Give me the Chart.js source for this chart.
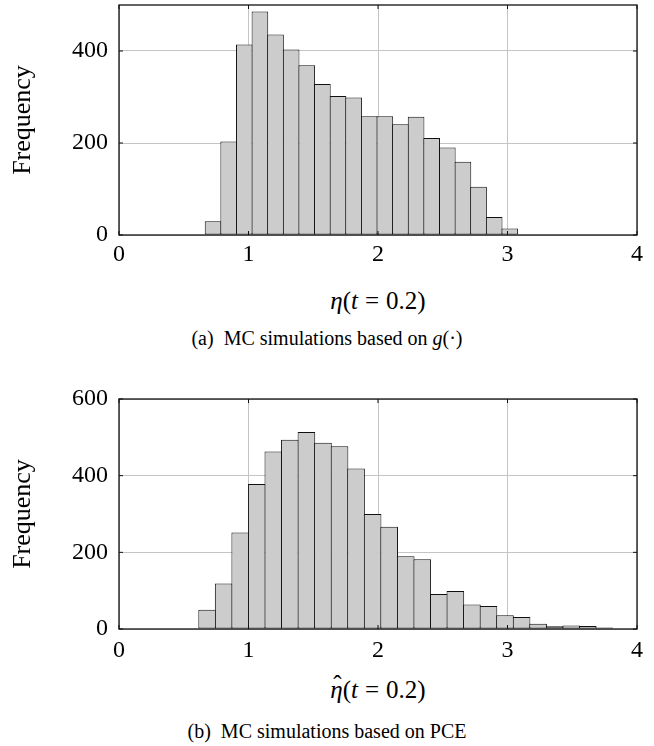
<!DOCTYPE html>
<html>
<head>
<meta charset="utf-8">
<title>MC histograms</title>
<script src="https://cdn.jsdelivr.net/npm/chart.js@4.4.0/dist/chart.umd.min.js"></script>
<style>
body { margin: 0; background: #fff; }
#page { position: relative; width: 654px; height: 746px; overflow: hidden; font-family: "Liberation Serif", serif; color: #000; }
.cv { position: absolute; left: 0; width: 654px; }
.xlabel { position: absolute; left: 119px; width: 518px; text-align: center; font-size: 25px; line-height: 30px; }
.xlabel .eq { margin: 0 0.28em; }
.hat { position: relative; display: inline-block; }
.hat .mark { position: absolute; left: 0.12em; top: -0.22em; font-style: normal; }
.caption { position: absolute; left: 0; width: 654px; text-align: center; font-size: 20px; line-height: 24px; }
</style>
</head>
<body>
<div id="page">
  <div class="cv" style="top:0px;height:275px"><canvas id="histG"></canvas></div>
  <div class="xlabel" style="top:286px"><i>η</i>(<i>t</i><span class="eq">=</span>0.2)</div>
  <div class="caption" style="top:326px">(a)&nbsp; MC simulations based on <i>g</i>(·)</div>

  <div class="cv" style="top:390px;height:275px"><canvas id="histPCE"></canvas></div>
  <div class="xlabel" style="top:675px"><span class="hat"><i>η</i><span class="mark">ˆ</span></span>(<i>t</i><span class="eq">=</span>0.2)</div>
  <div class="caption" style="top:719px">(b)&nbsp; MC simulations based on PCE</div>
</div>

<script>
// histogram (a): MC on g(.)
var binStartG = 0.666;
var binWidthG = 0.1206;
var countsG = [30, 203, 414, 486, 436, 403, 369, 328, 302, 299,
               258, 258, 241, 257, 211, 190, 159, 105, 39, 14];
var yTicksG = [0, 200, 400];
var yMaxG = 500;

// histogram (b): MC on PCE
var binStartP = 0.6165;
var binWidthP = 0.1278;
var countsP = [50, 119, 252, 378, 463, 494, 514, 486, 477, 419,
               300, 267, 190, 182, 91, 99, 64, 60, 36, 31,
               14, 7, 9, 8, 4, 1];
var yTicksP = [0, 200, 400, 600];
var yMaxP = 600;

var xTicks = [0, 1, 2, 3, 4];

var tickFont = { family: "Liberation Serif", size: 24 };

// black frame + little inward tick marks like pgfplots
var framePlugin = {
  id: 'frame',
  afterDatasetsDraw: function(chart) {
    var a = chart.chartArea, ctx = chart.ctx;
    var sx = chart.scales.x, sy = chart.scales.y;
    ctx.save();
    ctx.strokeStyle = '#111';
    ctx.lineWidth = 1;
    ctx.beginPath();
    sx.ticks.forEach(function(t) {
      var px = sx.getPixelForValue(t.value);
      ctx.moveTo(px, a.bottom); ctx.lineTo(px, a.bottom - 4);
      ctx.moveTo(px, a.top); ctx.lineTo(px, a.top + 4);
    });
    sy.ticks.forEach(function(t) {
      var py = sy.getPixelForValue(t.value);
      ctx.moveTo(a.left, py); ctx.lineTo(a.left + 4, py);
      ctx.moveTo(a.right, py); ctx.lineTo(a.right - 4, py);
    });
    ctx.stroke();
    ctx.lineWidth = 1.3;
    ctx.strokeRect(a.left, a.top, a.right - a.left, a.bottom - a.top);
    ctx.restore();
  }
};

function makeHist(id, start, width, counts, yTicks, yMax, padTop, xHeight, xPad) {
  var pts = counts.map(function(c, i) {
    return { x: start + (i + 0.5) * width, y: c };
  });
  return new Chart(document.getElementById(id), {
    type: 'bar',
    data: {
      datasets: [{
        data: pts,
        backgroundColor: '#cccccc',
        borderColor: '#111',
        borderWidth: 1,
        borderSkipped: false,
        barPercentage: 1.065,
        categoryPercentage: 1
      }]
    },
    options: {
      responsive: true,
      maintainAspectRatio: false,
      animation: false,
      layout: { padding: { top: padTop, right: 17, left: 0, bottom: 0 } },
      plugins: { legend: { display: false }, tooltip: { enabled: false } },
      scales: {
        x: {
          type: 'linear',
          min: 0, max: 4,
          offset: false,
          grid: { color: '#c4c4c4', lineWidth: 1, drawTicks: false, offset: false },
          border: { display: false },
          afterBuildTicks: function(s) { s.ticks = xTicks.map(function(v) { return { value: v }; }); },
          ticks: { color: '#000', font: tickFont, padding: xPad, maxRotation: 0 },
          afterFit: function(s) { s.height = xHeight; s.paddingLeft = 0; s.paddingRight = 0; }
        },
        y: {
          min: 0, max: yMax,
          grid: { color: '#c4c4c4', lineWidth: 1, drawTicks: false },
          border: { display: false },
          afterBuildTicks: function(s) { s.ticks = yTicks.map(function(v) { return { value: v }; }); },
          ticks: { color: '#000', font: tickFont, padding: 11 },
          title: {
            display: true, text: 'Frequency', color: '#000',
            font: { family: "Liberation Serif", size: 26 },
            padding: { top: 8, bottom: 0 }
          },
          afterFit: function(s) { s.width = 119; s.paddingTop = 0; s.paddingBottom = 0; }
        }
      }
    },
    plugins: [framePlugin]
  });
}

makeHist('histG', binStartG, binWidthG, countsG, yTicksG, yMaxG, 5, 40, 5);
makeHist('histPCE', binStartP, binWidthP, countsP, yTicksP, yMaxP, 9, 36, 7);
</script>
</body>
</html>
